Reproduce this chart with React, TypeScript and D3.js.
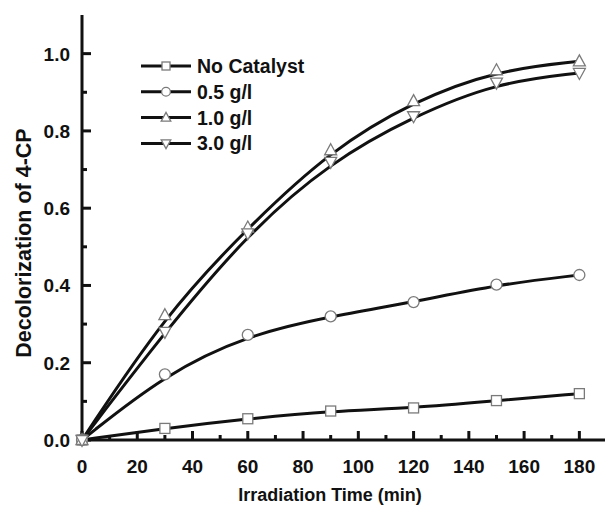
import React from "react";
import * as d3 from "d3";

const times = [0, 30, 60, 90, 120, 150, 180];
const seriesNames = ["No Catalyst", "0.5 g/l", "1.0 g/l", "3.0 g/l"];
const noCatalyst = [0, 0.03, 0.055, 0.075, 0.083, 0.102, 0.12];
const cat05 = [0, 0.17, 0.272, 0.32, 0.357, 0.402, 0.427];
const cat10 = [0, 0.323, 0.55, 0.75, 0.877, 0.957, 0.98];
const cat30 = [0, 0.28, 0.535, 0.72, 0.838, 0.925, 0.95];
const markerTypes = ["square", "circle", "up", "down"];
const xTicks = [0, 20, 40, 60, 80, 100, 120, 140, 160, 180];
const xMinor = [10, 30, 50, 70, 90, 110, 130, 150, 170];
const yTicks = [0, 0.2, 0.4, 0.6, 0.8, 1.0];
const yMinor = [0.1, 0.3, 0.5, 0.7, 0.9];

const W = 605;
const H = 507;
const FONT = "'Liberation Sans', Arial, sans-serif";

function Marker({ type, x, y, s = 1 }: { type: string; x: number; y: number; s?: number }) {
  const st = { fill: "#fff", stroke: "#7a7a7a", strokeWidth: 1.3 };
  if (type === "square") return <rect x={x - 5 * s} y={y - 5 * s} width={10 * s} height={10 * s} {...st} />;
  if (type === "circle") return <circle cx={x} cy={y} r={5.5 * s} {...st} />;
  if (type === "up")
    return <path d={`M${x},${y - 6.5 * s}L${x + 6 * s},${y + 4.5 * s}L${x - 6 * s},${y + 4.5 * s}Z`} {...st} />;
  return <path d={`M${x},${y + 6.5 * s}L${x + 6 * s},${y - 4.5 * s}L${x - 6 * s},${y - 4.5 * s}Z`} {...st} />;
}

export default function App() {
  const x = d3.scaleLinear().domain([0, 190]).range([82, 607]);
  const y = d3.scaleLinear().domain([0, 1.1]).range([440, 15]);
  const all = [noCatalyst, cat05, cat10, cat30];
  const line = d3
    .line<number>()
    .x((_, i) => x(times[i]))
    .y((d) => y(d))
    .curve(d3.curveBasis);
  const x0 = x(0);
  const y0 = y(0);
  return (
    <svg
      width={W}
      height={H}
      style={{ position: "absolute", left: 0, top: 0, background: "#fff" }}
      fontFamily={FONT}
    >
      {all.map((s, k) => (
        <path key={"l" + k} d={line(s) || ""} fill="none" stroke="#111" strokeWidth={3} />
      ))}
      <line x1={x0} y1={y0} x2={W} y2={y0} stroke="#111" strokeWidth={3} />
      <line x1={x0} y1={y0 + 1.5} x2={x0} y2={y(1.1)} stroke="#111" strokeWidth={3} />
      {xTicks.map((t) => (
        <line key={"xt" + t} x1={x(t)} x2={x(t)} y1={y0} y2={y0 - 9} stroke="#111" strokeWidth={3} />
      ))}
      {xMinor.map((t) => (
        <line key={"xm" + t} x1={x(t)} x2={x(t)} y1={y0} y2={y0 - 5} stroke="#111" strokeWidth={3} />
      ))}
      {yTicks.map((t) => (
        <line key={"yt" + t} x1={x0} x2={x0 + 9} y1={y(t)} y2={y(t)} stroke="#111" strokeWidth={3} />
      ))}
      {yMinor.map((t) => (
        <line key={"ym" + t} x1={x0} x2={x0 + 5} y1={y(t)} y2={y(t)} stroke="#111" strokeWidth={3} />
      ))}
      {xTicks.map((t) => (
        <text key={"xl" + t} x={x(t)} y={y0 + 33} textAnchor="middle" fontSize={19} fontWeight="bold" fill="#111">
          {t}
        </text>
      ))}
      {yTicks.map((t) => (
        <text key={"yl" + t} x={x0 - 12} y={y(t) + 7} textAnchor="end" fontSize={19} fontWeight="bold" fill="#111">
          {t.toFixed(1)}
        </text>
      ))}
      <text x={330} y={501} textAnchor="middle" fontSize={18} fontWeight="bold" fill="#111">
        Irradiation Time (min)
      </text>
      <text
        transform={`translate(31,${243}) rotate(-90)`}
        textAnchor="middle"
        fontSize={21.5}
        fontWeight="bold"
        fill="#111"
      >
        Decolorization of 4-CP
      </text>
      {all.map((s, k) =>
        s.map((v, i) => <Marker key={"m" + k + "_" + i} type={markerTypes[k]} x={x(times[i])} y={y(v)} />)
      )}
      {seriesNames.map((n, k) => {
        const ly = 66 + k * 25.8;
        return (
          <g key={"lg" + k}>
            <line x1={141} x2={191} y1={ly} y2={ly} stroke="#111" strokeWidth={3} />
            <Marker type={markerTypes[k]} x={166} y={ly} s={0.8} />
            <text x={197} y={ly + 7} fontSize={19.5} fontWeight="bold" fill="#111">
              {n}
            </text>
          </g>
        );
      })}
    </svg>
  );
}
